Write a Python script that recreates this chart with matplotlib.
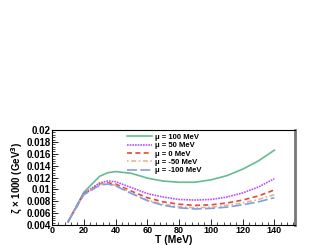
import matplotlib
matplotlib.use("Agg")
from matplotlib import pyplot as plt
from matplotlib.ticker import MultipleLocator

T = [10, 20, 30, 35, 40, 50, 60, 70, 80, 90, 100, 110, 120, 130, 140]
zeta_p100 = [0.0045, 0.0095, 0.0122, 0.0128, 0.0130, 0.0127, 0.0119, 0.0114, 0.0112, 0.0112, 0.0116, 0.0123, 0.0134, 0.0148, 0.0166]
zeta_p50 = [0.0045, 0.0093, 0.0111, 0.0114, 0.0113, 0.0103, 0.0093, 0.0087, 0.0083, 0.0082, 0.0083, 0.0087, 0.0094, 0.0104, 0.0118]
zeta_0 = [0.0045, 0.0092, 0.0109, 0.0111, 0.0109, 0.0097, 0.0086, 0.0079, 0.0075, 0.0073, 0.0074, 0.0077, 0.0082, 0.0089, 0.0099]
zeta_m50 = [0.0045, 0.0091, 0.0108, 0.0110, 0.0107, 0.0094, 0.0082, 0.0075, 0.0071, 0.0069, 0.0070, 0.0073, 0.0077, 0.0083, 0.0091]
zeta_m100 = [0.0045, 0.0091, 0.0107, 0.0109, 0.0106, 0.0093, 0.0081, 0.0073, 0.0069, 0.0067, 0.0068, 0.0070, 0.0074, 0.0079, 0.0086]
labels = ["μ = 100 MeV", "μ = 50 MeV", "μ = 0 MeV", "μ = -50 MeV", "μ = -100 MeV"]

plt.rcParams['font.family'] = ['Liberation Sans', 'DejaVu Sans']
plt.rcParams['font.weight'] = 'bold'

fig = plt.figure(figsize=(3.27, 2.45), dpi=100)
ax = fig.add_axes([52/327, 20/245, 243/327, 95/245])

ax.plot(T, zeta_p100, color='#66bb8f', lw=1.2, ls='-', label=labels[0])
ax.plot(T, zeta_p50, color='#b94dff', lw=1.2, ls=(0, (1, 0.6)), label=labels[1])
ax.plot(T, zeta_0, color='#e8453c', lw=1.2, ls=(0, (3, 2)), label=labels[2])
ax.plot(T, zeta_m50, color='#e3b98a', lw=1.2, ls=(0, (1, 1.5, 3, 1.5)), label=labels[3])
ax.plot(T, zeta_m100, color='#7f9fe6', lw=1.2, ls=(0, (6, 2)), label=labels[4])

ax.set_xlim(0, 153)
ax.set_ylim(0.004, 0.02)
ax.xaxis.set_major_locator(MultipleLocator(20))
ax.xaxis.set_minor_locator(MultipleLocator(4))
ax.yaxis.set_major_locator(MultipleLocator(0.002))
ax.yaxis.set_minor_locator(MultipleLocator(0.0004))
ax.yaxis.set_major_formatter(plt.FuncFormatter(lambda v, p: ('%g' % round(v, 4))))
ax.tick_params(which='both', direction='in', top=False, right=False, labelsize=7, pad=1)
ax.tick_params(axis='x', labelsize=6.5, pad=0.5)
ax.tick_params(which='major', length=4, width=0.6)
ax.tick_params(which='minor', length=2, width=0.5)
for s in ax.spines.values():
    s.set_linewidth(0.8)
ax.spines['right'].set_linewidth(2)
ax.spines['right'].set_color('#777777')

ax.set_xlabel('T (MeV)', fontsize=7.5, fontweight='bold')
ax.xaxis.set_label_coords(0.5, -0.1)
ax.set_ylabel('ζ × 1000 (GeV$^3$)', fontsize=7, fontweight='bold', labelpad=1)

ax.legend(loc='upper left', fontsize=5.5, frameon=False, handlelength=3.2, labelspacing=0.12,
          handletextpad=0.4, borderaxespad=0, borderpad=0, bbox_to_anchor=(0.31, 0.96))

fig.savefig('out.png', dpi=100)
